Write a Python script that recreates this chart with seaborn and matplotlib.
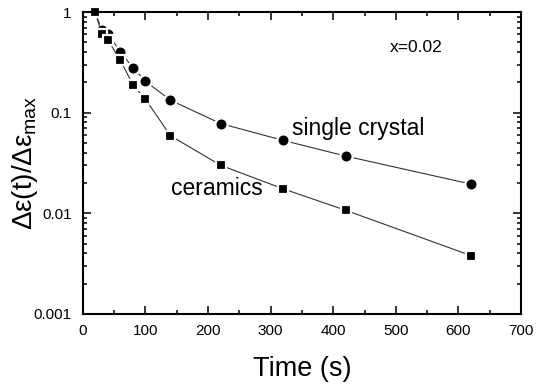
import pandas as pd
import matplotlib.pyplot as plt
import seaborn as sns
from matplotlib.ticker import FixedLocator, LogLocator, NullFormatter, MultipleLocator

# values
time_crystal = [20, 30, 40, 60, 80, 100, 140, 220, 320, 420, 620]
ratio_crystal = [1.0, 0.66, 0.61, 0.40, 0.28, 0.205, 0.133, 0.078, 0.053, 0.037, 0.0195]
time_ceramics = [20, 30, 40, 60, 80, 100, 140, 220, 320, 420, 620]
ratio_ceramics = [1.0, 0.61, 0.53, 0.33, 0.19, 0.136, 0.059, 0.030, 0.0175, 0.0107, 0.0038]
y_ticks = [1, 0.1, 0.01, 0.001]
y_tick_labels = ["1", "0.1", "0.01", "0.001"]

sns.set_theme(style="ticks", rc={"text.color": "black", "axes.labelcolor": "black",
                                 "xtick.color": "black", "ytick.color": "black"})
plt.rcParams["font.family"] = ["Liberation Sans", "DejaVu Sans"]
plt.rcParams["mathtext.fontset"] = "custom"
plt.rcParams["mathtext.rm"] = "Liberation Sans"
plt.rcParams["mathtext.it"] = "Liberation Sans"

df_crystal = pd.DataFrame({"time": time_crystal, "ratio": ratio_crystal})
df_ceramics = pd.DataFrame({"time": time_ceramics, "ratio": ratio_ceramics})

fig = plt.figure(figsize=(5.45, 3.88), dpi=100)
ax = fig.add_axes([0.152, 0.191, 0.804, 0.778])

line_kw = dict(color="#333333", linewidth=0.8, markeredgecolor="white",
               markeredgewidth=1.6, markerfacecolor="black")
sns.lineplot(data=df_crystal, x="time", y="ratio", marker="o", markersize=8.8,
             ax=ax, **line_kw)
sns.lineplot(data=df_ceramics, x="time", y="ratio", marker="s", markersize=7.8,
             ax=ax, **line_kw)
for ln in ax.lines:
    ln.set_clip_on(False)

ax.set_yscale("log")
ax.set_xlim(0, 700)
ax.set_ylim(0.001, 1)
ax.xaxis.set_major_locator(MultipleLocator(100))
ax.xaxis.set_minor_locator(MultipleLocator(50))
ax.yaxis.set_major_locator(FixedLocator(y_ticks))
ax.set_yticklabels(y_tick_labels)
ax.yaxis.set_minor_locator(LogLocator(base=10, subs=range(2, 10)))
ax.yaxis.set_minor_formatter(NullFormatter())

ax.tick_params(which="both", direction="in", top=True, right=True,
               labelsize=11, width=1.1)
ax.tick_params(which="major", length=6)
ax.tick_params(which="minor", length=3)
ax.tick_params(axis="x", which="major", pad=7)
ax.tick_params(axis="y", which="major", pad=8)
for spine in ax.spines.values():
    spine.set_linewidth(1.5)
    spine.set_color("black")

ax.set_xlabel("Time (s)", fontsize=19.5, labelpad=13)
ax.set_ylabel(r"$\Delta\varepsilon(t)/\Delta\varepsilon_{\rm max}$", fontsize=20)
ax.yaxis.set_label_coords(-0.098, 0.5)

ax.text(490, 0.40, "x=0.02", fontsize=12.5)
ax.text(334, 0.060, "single crystal", fontsize=16.5)
ax.text(141, 0.0152, "ceramics", fontsize=16.5)

plt.savefig("out.png", dpi=100)
